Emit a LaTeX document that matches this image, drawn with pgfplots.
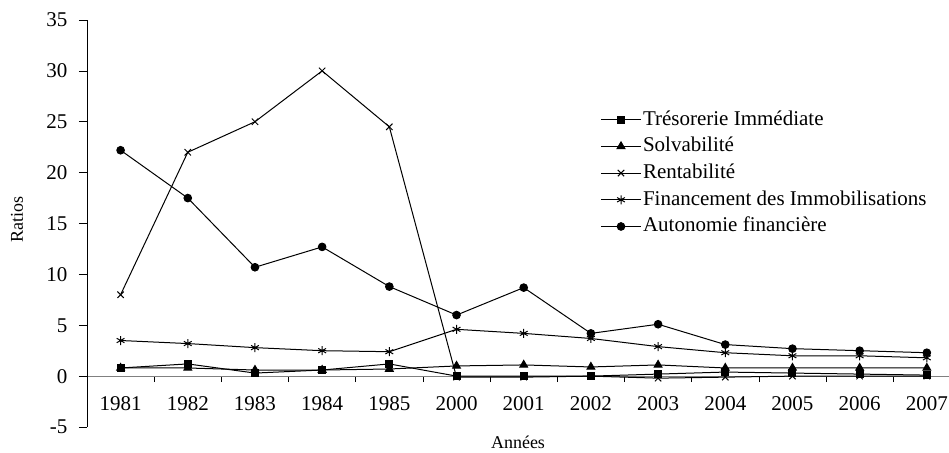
\documentclass[border=0pt]{standalone}
\usepackage{fontspec}
\setmainfont{Liberation Serif}
\usepackage{pgfplots}
\usepackage{pgfplotstable}
\pgfplotsset{compat=1.18}
\pgfplotstableread{
x tres solv rent fin auto
0  0.8 0.8  8.0 3.5 22.2
1  1.2 0.8 22.0 3.2 17.5
2  0.3 0.6 25.0 2.8 10.7
3  0.6 0.6 30.0 2.5 12.7
4  1.2 0.7 24.5 2.4  8.8
5  0.0 1.0 -0.1 4.6  6.0
6  0.0 1.1 -0.1 4.2  8.7
7  0.0 0.9  0.0 3.7  4.2
8  0.2 1.1 -0.2 2.9  5.1
9  0.4 0.8 -0.1 2.3  3.1
10 0.3 0.8  0.0 2.0  2.7
11 0.2 0.8  0.0 2.0  2.5
12 0.1 0.8  0.0 1.8  2.3
}\data
\begin{document}
\begin{tikzpicture}
\begin{axis}[
  scale only axis,
  width=862pt, height=407pt,
  xmin=-0.5, xmax=12.33,
  ymin=-5, ymax=35,
  axis y line=left,
  axis x line=middle,
  x axis line style={-, gray, line width=0.8pt},
  y axis line style={-, black, line width=0.8pt},
  tick align=outside,
  xtick={0,...,12},
  xticklabels={1981,1982,1983,1984,1985,2000,2001,2002,2003,2004,2005,2006,2007},
  major x tick style={draw=none},
  minor xtick={0.5,1.5,...,11.5},
  minor x tick style={black, line width=0.6pt},
  minor tick length=6pt,
  ytick={-5,0,5,10,15,20,25,30,35},
  yticklabels={-5,0,5,10,15,20,25,30,35},
  major tick length=8pt,
  y tick style={black, line width=0.6pt},
  tick label style={font=\fontsize{21}{25}\selectfont},
  xticklabel style={yshift=-9pt},
  yticklabel style={xshift=-8pt},
  xlabel={Années},
  ylabel={Ratios},
  label style={font=\fontsize{18}{22}\selectfont},
  xlabel style={at={(axis description cs:0.5,0)}, anchor=north, yshift=-5pt},
  ylabel style={at={(axis description cs:-0.07,0.509)}, anchor=south, rotate=0},
  legend style={at={(0.592,0.79)}, anchor=north west, draw=none, fill=none,
    font=\fontsize{21}{25}\selectfont, row sep=2.7pt,
    nodes={inner sep=1.5pt, anchor=west, text height=16pt, text depth=5pt}},
  legend cell align=left,
  legend image code/.code={\draw[#1, mark repeat=2, mark phase=2] plot coordinates {(0pt,0pt)(20pt,0pt)(40pt,0pt)};},
  every axis plot/.append style={black, line width=1pt, mark options={solid, fill=black}},
  clip=false,
]
\addplot[mark=square*, mark size=3.5pt] table[x=x, y=tres] {\data};
\addlegendentry{Trésorerie Immédiate}
\addplot[mark=triangle*, mark size=4.5pt] table[x=x, y=solv] {\data};
\addlegendentry{Solvabilité}
\addplot[mark=x, mark size=4.5pt] table[x=x, y=rent] {\data};
\addlegendentry{Rentabilité}
\addplot[mark=asterisk, mark size=4.5pt] table[x=x, y=fin] {\data};
\addlegendentry{Financement des Immobilisations}
\addplot[mark=*, mark size=3.8pt] table[x=x, y=auto] {\data};
\addlegendentry{Autonomie financière}
\end{axis}
\pgfresetboundingbox
\path[use as bounding box] (-87pt,-25pt) rectangle (862pt,427pt);
\end{tikzpicture}
\end{document}
